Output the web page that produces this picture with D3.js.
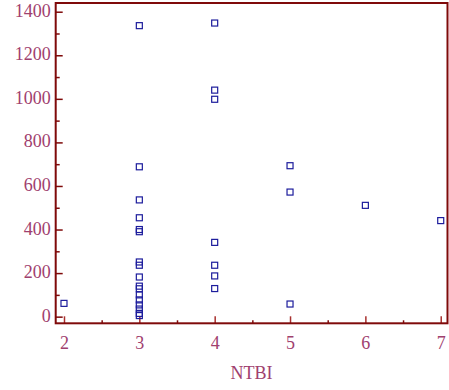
<!DOCTYPE html>
<html>
<head>
<meta charset="utf-8">
<script src="https://cdn.jsdelivr.net/npm/d3@7"></script>
<style>
  body { margin: 0; background: #fff; }
  svg { display: block; }
</style>
</head>
<body>
<main></main>
<script>
let xs = [2,
          3, 3, 3, 3, 3, 3, 3, 3, 3, 3, 3, 3, 3, 3, 3, 3, 3,
          4, 4, 4, 4, 4, 4, 4,
          5, 5, 5,
          6,
          7]
let values = [61,
              1336, 688, 536, 454, 400, 390, 251, 236, 182, 140, 128, 100, 77, 54, 35, 15, 5,
              1348, 1040, 998, 341, 236, 187, 129,
              693, 572, 58,
              511,
              441]
let xTicks = [2, 3, 4, 5, 6, 7]
let yTicks = [0, 200, 400, 600, 800, 1000, 1200, 1400]

let points = xs.map((x, i) => ({x: x, y: values[i]}))

let axisColor = '#7f0a0a'
let labelColor = '#a0406e'
let markColor = '#1c1c9c'
let serif = "'Liberation Serif', 'Times New Roman', serif"

let mLeft = 55.7, mRight = 447.5, mTop = 3, mBottom = 323.3

let svg = d3.select('main').append('svg')
    .attr('width', 449)
    .attr('height', 390)
    .style('background', '#fff')

let x = d3.scaleLinear().domain([1.89, 7.09]).range([mLeft, mRight])
let y = d3.scaleLinear().domain([-30.5, 1440]).range([mBottom, mTop])

// y axis, ticks pointing inside
let yAxis = svg.append('g')
    .attr('transform', `translate(${mLeft},0)`)
    .call(d3.axisLeft(y).tickValues(yTicks).tickSize(-7).tickPadding(12).tickFormat(d3.format('d')))
yAxis.select('.domain').remove()
yAxis.selectAll('.tick line').attr('stroke', axisColor).attr('stroke-width', 1.5)
yAxis.selectAll('.tick text')
    .attr('fill', labelColor)
    .style('font-family', serif)
    .attr('font-size', 18)
    .attr('x', -5)
    .attr('dy', '0.25em')

let yMinor = svg.append('g')
    .attr('transform', `translate(${mLeft},0)`)
    .call(d3.axisLeft(y).tickValues([100, 300, 500, 700, 900, 1100, 1300]).tickSize(-4).tickFormat(''))
yMinor.select('.domain').remove()
yMinor.selectAll('.tick line').attr('stroke', axisColor).attr('stroke-width', 1.5)

// x axis, ticks pointing inside
let xAxis = svg.append('g')
    .attr('transform', `translate(0,${mBottom})`)
    .call(d3.axisBottom(x).tickValues(xTicks).tickSize(-7).tickPadding(14).tickFormat(d3.format('d')))
xAxis.select('.domain').remove()
xAxis.selectAll('.tick line').attr('stroke', '#a8302e').attr('stroke-width', 1.5)
xAxis.selectAll('.tick text')
    .attr('fill', labelColor)
    .style('font-family', serif)
    .attr('font-size', 18)
    .attr('y', 13)

let xMinor = svg.append('g')
    .attr('transform', `translate(0,${mBottom})`)
    .call(d3.axisBottom(x).tickValues([2.5, 3.5, 4.5, 5.5, 6.5]).tickSize(-3).tickFormat(''))
xMinor.select('.domain').remove()
xMinor.selectAll('.tick line').attr('stroke', axisColor).attr('stroke-width', 1.5)

// frame
svg.append('rect')
    .attr('x', mLeft)
    .attr('y', mTop)
    .attr('width', mRight - mLeft)
    .attr('height', mBottom - mTop)
    .attr('fill', 'none')
    .attr('stroke', axisColor)
    .attr('stroke-width', 2)

// markers
svg.append('g').selectAll('rect')
    .data(points)
    .join('rect')
    .attr('x', d => x(d.x) - 3)
    .attr('y', d => y(d.y) - 3)
    .attr('width', 6)
    .attr('height', 6)
    .attr('fill', 'none')
    .attr('stroke', markColor)
    .attr('stroke-width', 1.2)

svg.append('text')
    .attr('x', (mLeft + mRight) / 2)
    .attr('y', 379)
    .attr('text-anchor', 'middle')
    .attr('fill', labelColor)
    .style('font-family', serif)
    .attr('font-size', 18)
    .text('NTBI')
</script>
</body>
</html>
